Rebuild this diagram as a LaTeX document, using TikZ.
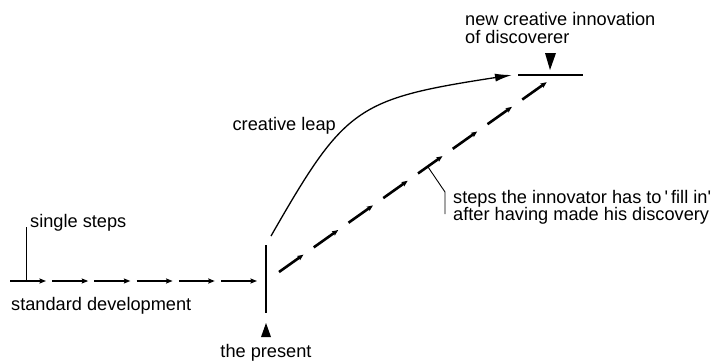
\documentclass[tikz,border=0pt]{standalone}
\usepackage{fontspec}
\setmainfont{Liberation Sans}
\usetikzlibrary{arrows.meta,calc}
\begin{document}
\begin{tikzpicture}[x=1pt,y=-1pt,
  lbl/.style={inner sep=0pt, font=\fontsize{18.2}{18.2}\selectfont},
  stepseg/.style={line width=2.2pt, -{Stealth[length=6.5pt,width=5pt,inset=1pt]}},
  diagseg/.style={line width=2.6pt, -{Stealth[length=6pt,width=5pt,inset=1pt]}},
  leap/.style={line width=1.3pt, -{Latex[length=17pt,width=8pt]}},
  marker/.style={line width=2.4pt},
  thinline/.style={line width=0.9pt}]
\useasboundingbox (0,0) rectangle (715,364);

% standard development: horizontal single steps
\coordinate (hs) at (10,281);
\coordinate (he) at (257,281);
\foreach \i in {0,...,5} {
  \pgfmathsetmacro\da{\i*42.2}
  \pgfmathsetmacro\db{\i*42.2+36}
  \draw[stepseg] ($(hs)!\da pt!(he)$) -- ($(hs)!\db pt!(he)$);
}

% single steps label and tick
\node[lbl, anchor=base west] (single) at (30,227) {single steps};
\coordinate (tickTop) at (26,227);
\coordinate (tickBot) at (26,281);
\draw[thinline] (tickTop) -- (tickBot);

\node[lbl, anchor=base west] (std) at (11,310) {standard development};

% the present
\coordinate (presTop) at (266,245);
\coordinate (presBot) at (266,313);
\draw[marker] (presTop) -- (presBot);
\fill ($(presBot)+(-5,24)$) -- ($(presBot)+(0,10)$) -- ($(presBot)+(5,24)$) -- cycle;
\node[lbl, anchor=base] (present) at (266,357) {the present};

% new creative innovation
\coordinate (newL) at (518,75);
\coordinate (newR) at (583,75);
\draw[marker] (newL) -- (newR);
\coordinate (newPt) at (550,70);
\fill ($(newPt)+(-5,-17)$) -- (newPt) -- ($(newPt)+(6,-17)$) -- cycle;
\node[lbl, anchor=base west] (new1) at (465,25) {new creative innovation};
\node[lbl, anchor=base west] (new2) at (465,43) {of discoverer};

% creative leap
\coordinate (leapS) at (271,236);
\coordinate (leapE) at (512,75);
\draw[leap] (leapS) .. controls (345,107) and (356,99) .. (leapE);
\node[lbl, anchor=base east] (leaplbl) at (336,130) {creative leap};

% steps to fill in
\coordinate (ds) at (279,272);
\coordinate (de) at (547,82);
\foreach \i in {0,...,7} {
  \pgfmathsetmacro\da{\i*42.6}
  \pgfmathsetmacro\db{\i*42.6+30}
  \draw[diagseg] ($(ds)!\da pt!(de)$) -- ($(ds)!\db pt!(de)$);
}

% callout
\coordinate (co) at ($(ds)!0.555!(de)$);
\coordinate (coB) at (445,192);
\coordinate (coE) at (445,214);
\draw[thinline] (co) -- (coB) -- (coE);
\node[lbl, anchor=base west] (fill1) at (453,203) {steps the innovator has to\,\textquotesingle\,fill in\textquotesingle};
\node[lbl, anchor=base west] (fill2) at (453,220) {after having made his discovery};
\end{tikzpicture}
\end{document}
